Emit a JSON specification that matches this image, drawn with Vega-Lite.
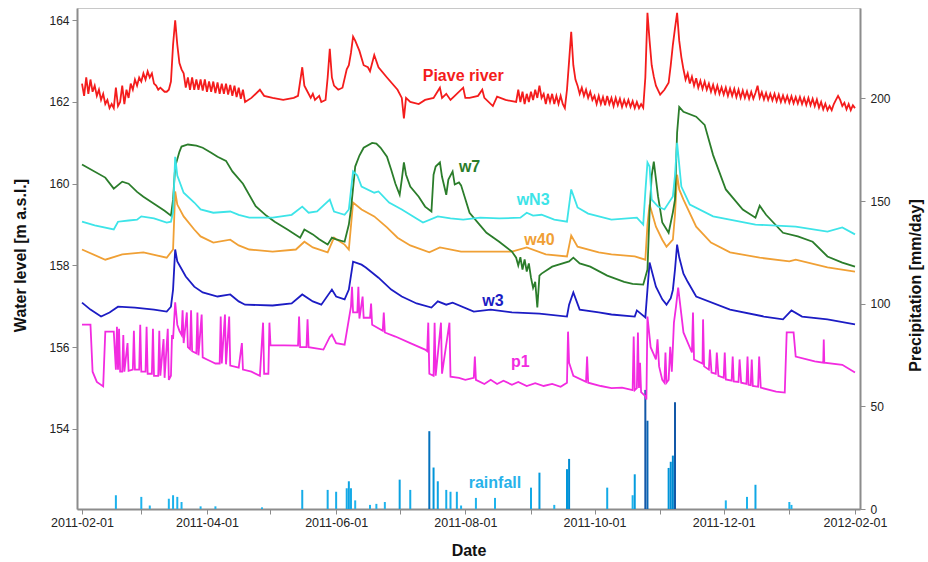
{
"$schema":"https://vega.github.io/schema/vega-lite/v6.json",
"width":783,"height":501,
"autosize":{"type":"none"},
"padding":{"left":77,"top":8,"right":68,"bottom":53},
"background":"white",
"config":{
 "font":"Liberation Sans",
 "view":{"stroke":"#c8c8c8","strokeWidth":1},
 "axis":{"grid":false,"domainColor":"#8c8c8c","domainWidth":2,"tickColor":"#8c8c8c","tickSize":5,"tickWidth":1,"labelColor":"#222222","labelFontSize":12,"titleFontSize":16,"titleFontWeight":"bold","titleColor":"#111111","labelFlush":false}
},
"datasets":{
"rain":[
{"date":"2011-02-17","precip":6.7},{"date":"2011-03-01","precip":5.9},{"date":"2011-03-05","precip":1.7},{"date":"2011-03-14","precip":5},{"date":"2011-03-16","precip":6.7},{"date":"2011-03-18","precip":5.9},{"date":"2011-03-20","precip":3.4},{"date":"2011-03-29","precip":1.3},{"date":"2011-04-05","precip":1.3},{"date":"2011-04-27","precip":0.8},
{"date":"2011-05-16","precip":9.3},{"date":"2011-05-28","precip":9.3},{"date":"2011-06-01","precip":8.4},{"date":"2011-06-06","precip":10.1},{"date":"2011-06-07","precip":13.5},{"date":"2011-06-08","precip":10.1},{"date":"2011-06-10","precip":4.2},{"date":"2011-06-17","precip":2},{"date":"2011-06-20","precip":2.5},{"date":"2011-06-24","precip":3.4},
{"date":"2011-07-01","precip":14.3},{"date":"2011-07-06","precip":9.3},{"date":"2011-07-15","precip":37.9},{"date":"2011-07-17","precip":20.2},{"date":"2011-07-19","precip":13.5},{"date":"2011-07-23","precip":9.3},{"date":"2011-07-25","precip":8.4},{"date":"2011-07-28","precip":8.4},{"date":"2011-07-30","precip":1.7},
{"date":"2011-08-06","precip":5.4},{"date":"2011-08-15","precip":5.4},{"date":"2011-09-01","precip":10.4},{"date":"2011-09-05","precip":17.7},{"date":"2011-09-12","precip":2},{"date":"2011-09-18","precip":19.4},{"date":"2011-09-19","precip":24.4},
{"date":"2011-10-07","precip":10.4},{"date":"2011-10-19","precip":6.7},{"date":"2011-10-20","precip":16.9},{"date":"2011-10-25","precip":58},{"date":"2011-10-26","precip":43},
{"date":"2011-11-05","precip":20},{"date":"2011-11-06","precip":23},{"date":"2011-11-07","precip":26},{"date":"2011-11-08","precip":52},
{"date":"2011-12-02","precip":4.2},{"date":"2011-12-12","precip":5.9},{"date":"2011-12-16","precip":11.8},{"date":"2012-01-01","precip":3.4},{"date":"2012-01-02","precip":2}
],
"labels":[
{"date":"2011-07-31","level":162.64,"label":"Piave river","series":"Piave river"},
{"date":"2011-08-03","level":160.41,"label":"w7","series":"w7"},
{"date":"2011-09-02","level":159.61,"label":"wN3","series":"wN3"},
{"date":"2011-09-05","level":158.63,"label":"w40","series":"w40"},
{"date":"2011-08-14","level":157.12,"label":"w3","series":"w3"},
{"date":"2011-08-27","level":155.64,"label":"p1","series":"p1"},
{"date":"2011-08-15","level":152.67,"label":"rainfall","series":"rainfall"}
],
"levels":[
{"date":"2011-02-01","series":"p1","level":156.55},{"date":"2011-02-05","series":"p1","level":156.55},{"date":"2011-02-06","series":"p1","level":155.4},{"date":"2011-02-08","series":"p1","level":155.15},{"date":"2011-02-11","series":"p1","level":155.04},{"date":"2011-02-12","series":"p1","level":156.38},{"date":"2011-02-16","series":"p1","level":156.38},{"date":"2011-02-17","series":"p1","level":155.45},{"date":"2011-02-17T12:00:00Z","series":"p1","level":156.5},{"date":"2011-02-18","series":"p1","level":155.45},{"date":"2011-02-18T12:00:00Z","series":"p1","level":156.45},{"date":"2011-02-19","series":"p1","level":155.4},{"date":"2011-02-20","series":"p1","level":155.4},{"date":"2011-02-20T12:00:00Z","series":"p1","level":156.3},{"date":"2011-02-21","series":"p1","level":155.4},{"date":"2011-02-22T12:00:00Z","series":"p1","level":156.1},{"date":"2011-02-23","series":"p1","level":155.42},{"date":"2011-02-25","series":"p1","level":155.45},{"date":"2011-02-25T12:00:00Z","series":"p1","level":156.4},{"date":"2011-02-26","series":"p1","level":155.45},{"date":"2011-02-28","series":"p1","level":155.45},{"date":"2011-02-28T12:00:00Z","series":"p1","level":156.55},{"date":"2011-03-01","series":"p1","level":155.4},{"date":"2011-03-03","series":"p1","level":155.4},{"date":"2011-03-03T12:00:00Z","series":"p1","level":156.5},{"date":"2011-03-04","series":"p1","level":155.35},{"date":"2011-03-06","series":"p1","level":155.35},{"date":"2011-03-06T12:00:00Z","series":"p1","level":156.45},{"date":"2011-03-07","series":"p1","level":155.3},{"date":"2011-03-09","series":"p1","level":155.3},{"date":"2011-03-09T12:00:00Z","series":"p1","level":156.4},{"date":"2011-03-10","series":"p1","level":155.3},{"date":"2011-03-11T12:00:00Z","series":"p1","level":156.2},{"date":"2011-03-12","series":"p1","level":155.25},{"date":"2011-03-13T12:00:00Z","series":"p1","level":156.45},{"date":"2011-03-14","series":"p1","level":155.2},{"date":"2011-03-15","series":"p1","level":155.3},{"date":"2011-03-15T12:00:00Z","series":"p1","level":156.3},{"date":"2011-03-16","series":"p1","level":156.2},{"date":"2011-03-17","series":"p1","level":157.1},{"date":"2011-03-18","series":"p1","level":156.55},{"date":"2011-03-19","series":"p1","level":156.4},{"date":"2011-03-20","series":"p1","level":156.3},{"date":"2011-03-20T12:00:00Z","series":"p1","level":156.9},{"date":"2011-03-21","series":"p1","level":156.1},{"date":"2011-03-22T12:00:00Z","series":"p1","level":156.85},{"date":"2011-03-23","series":"p1","level":156.0},{"date":"2011-03-24","series":"p1","level":155.95},{"date":"2011-03-24T12:00:00Z","series":"p1","level":156.9},{"date":"2011-03-25","series":"p1","level":155.9},{"date":"2011-03-27","series":"p1","level":155.85},{"date":"2011-03-27T12:00:00Z","series":"p1","level":156.85},{"date":"2011-03-28","series":"p1","level":155.8},{"date":"2011-03-29T12:00:00Z","series":"p1","level":156.8},{"date":"2011-03-30","series":"p1","level":155.75},{"date":"2011-04-01","series":"p1","level":155.7},{"date":"2011-04-03","series":"p1","level":155.65},{"date":"2011-04-05","series":"p1","level":155.6},{"date":"2011-04-07","series":"p1","level":155.6},{"date":"2011-04-07T12:00:00Z","series":"p1","level":156.75},{"date":"2011-04-08","series":"p1","level":155.6},{"date":"2011-04-09T12:00:00Z","series":"p1","level":156.8},{"date":"2011-04-10","series":"p1","level":155.58},{"date":"2011-04-11T12:00:00Z","series":"p1","level":156.75},{"date":"2011-04-12","series":"p1","level":155.55},{"date":"2011-04-16","series":"p1","level":155.5},{"date":"2011-04-17T12:00:00Z","series":"p1","level":156.1},{"date":"2011-04-18","series":"p1","level":155.45},{"date":"2011-04-22","series":"p1","level":155.4},{"date":"2011-04-26","series":"p1","level":155.3},{"date":"2011-04-27T12:00:00Z","series":"p1","level":156.6},{"date":"2011-04-28","series":"p1","level":155.35},{"date":"2011-04-30","series":"p1","level":155.35},{"date":"2011-04-30T12:00:00Z","series":"p1","level":156.6},{"date":"2011-05-01","series":"p1","level":156.05},{"date":"2011-05-14","series":"p1","level":156.04},{"date":"2011-05-14T12:00:00Z","series":"p1","level":156.75},{"date":"2011-05-15","series":"p1","level":156.0},{"date":"2011-05-18","series":"p1","level":156.0},{"date":"2011-05-18T12:00:00Z","series":"p1","level":156.68},{"date":"2011-05-19","series":"p1","level":156.0},{"date":"2011-05-26","series":"p1","level":155.94},{"date":"2011-05-29","series":"p1","level":156.25},{"date":"2011-05-30","series":"p1","level":156.31},{"date":"2011-06-01","series":"p1","level":156.1},{"date":"2011-06-05","series":"p1","level":156.06},{"date":"2011-06-08","series":"p1","level":156.99},{"date":"2011-06-08T12:00:00Z","series":"p1","level":157.48},{"date":"2011-06-09","series":"p1","level":156.85},{"date":"2011-06-11","series":"p1","level":156.85},{"date":"2011-06-11T12:00:00Z","series":"p1","level":157.48},{"date":"2011-06-12","series":"p1","level":156.7},{"date":"2011-06-13T12:00:00Z","series":"p1","level":157.24},{"date":"2011-06-14","series":"p1","level":156.72},{"date":"2011-06-17","series":"p1","level":156.72},{"date":"2011-06-17T12:00:00Z","series":"p1","level":157.07},{"date":"2011-06-18","series":"p1","level":156.55},{"date":"2011-06-23","series":"p1","level":156.4},{"date":"2011-06-23T12:00:00Z","series":"p1","level":156.85},{"date":"2011-06-24","series":"p1","level":156.36},{"date":"2011-06-29","series":"p1","level":156.26},{"date":"2011-07-06","series":"p1","level":156.1},{"date":"2011-07-13","series":"p1","level":155.94},{"date":"2011-07-14","series":"p1","level":155.9},{"date":"2011-07-14T12:00:00Z","series":"p1","level":156.6},{"date":"2011-07-15","series":"p1","level":155.35},{"date":"2011-07-17","series":"p1","level":155.3},{"date":"2011-07-17T12:00:00Z","series":"p1","level":156.6},{"date":"2011-07-18","series":"p1","level":155.3},{"date":"2011-07-20T12:00:00Z","series":"p1","level":156.6},{"date":"2011-07-21","series":"p1","level":155.35},{"date":"2011-07-24T12:00:00Z","series":"p1","level":156.6},{"date":"2011-07-25","series":"p1","level":155.28},{"date":"2011-07-29","series":"p1","level":155.25},{"date":"2011-08-01","series":"p1","level":155.2},{"date":"2011-08-05","series":"p1","level":155.25},{"date":"2011-08-05T12:00:00Z","series":"p1","level":155.77},{"date":"2011-08-06","series":"p1","level":155.2},{"date":"2011-08-10","series":"p1","level":155.1},{"date":"2011-08-13","series":"p1","level":155.2},{"date":"2011-08-16","series":"p1","level":155.1},{"date":"2011-08-19","series":"p1","level":155.18},{"date":"2011-08-23","series":"p1","level":155.08},{"date":"2011-08-26","series":"p1","level":155.15},{"date":"2011-08-30","series":"p1","level":155.05},{"date":"2011-09-03","series":"p1","level":155.12},{"date":"2011-09-07","series":"p1","level":155.05},{"date":"2011-09-11","series":"p1","level":155.1},{"date":"2011-09-15","series":"p1","level":155.03},{"date":"2011-09-18","series":"p1","level":155.13},{"date":"2011-09-18T12:00:00Z","series":"p1","level":156.38},{"date":"2011-09-19","series":"p1","level":155.62},{"date":"2011-09-21","series":"p1","level":155.3},{"date":"2011-09-27","series":"p1","level":155.15},{"date":"2011-09-27T12:00:00Z","series":"p1","level":155.77},{"date":"2011-09-28","series":"p1","level":155.13},{"date":"2011-10-04","series":"p1","level":155.05},{"date":"2011-10-09","series":"p1","level":155.0},{"date":"2011-10-14","series":"p1","level":155.01},{"date":"2011-10-19","series":"p1","level":154.95},{"date":"2011-10-19T12:00:00Z","series":"p1","level":156.26},{"date":"2011-10-20","series":"p1","level":154.95},{"date":"2011-10-21","series":"p1","level":155.0},{"date":"2011-10-21T12:00:00Z","series":"p1","level":156.36},{"date":"2011-10-22","series":"p1","level":155.0},{"date":"2011-10-22T12:00:00Z","series":"p1","level":155.62},{"date":"2011-10-23","series":"p1","level":154.9},{"date":"2011-10-25","series":"p1","level":154.8},{"date":"2011-10-25T12:00:00Z","series":"p1","level":154.72},{"date":"2011-10-26","series":"p1","level":156.75},{"date":"2011-10-27T12:00:00Z","series":"p1","level":156.0},{"date":"2011-10-30","series":"p1","level":155.7},{"date":"2011-10-30T18:00:00Z","series":"p1","level":156.19},{"date":"2011-10-31T12:00:00Z","series":"p1","level":155.53},{"date":"2011-11-02","series":"p1","level":155.2},{"date":"2011-11-03","series":"p1","level":155.13},{"date":"2011-11-03T12:00:00Z","series":"p1","level":155.87},{"date":"2011-11-04","series":"p1","level":155.13},{"date":"2011-11-05","series":"p1","level":155.2},{"date":"2011-11-05T18:00:00Z","series":"p1","level":156.01},{"date":"2011-11-06T12:00:00Z","series":"p1","level":155.4},{"date":"2011-11-07T12:00:00Z","series":"p1","level":156.6},{"date":"2011-11-08T12:00:00Z","series":"p1","level":157.0},{"date":"2011-11-09T12:00:00Z","series":"p1","level":157.46},{"date":"2011-11-12","series":"p1","level":156.36},{"date":"2011-11-16","series":"p1","level":155.87},{"date":"2011-11-16T12:00:00Z","series":"p1","level":156.85},{"date":"2011-11-17","series":"p1","level":155.7},{"date":"2011-11-21","series":"p1","level":155.6},{"date":"2011-11-21T06:00:00Z","series":"p1","level":156.68},{"date":"2011-11-21T18:00:00Z","series":"p1","level":155.53},{"date":"2011-11-24","series":"p1","level":155.45},{"date":"2011-11-24T12:00:00Z","series":"p1","level":155.94},{"date":"2011-11-25T06:00:00Z","series":"p1","level":155.38},{"date":"2011-11-27T06:00:00Z","series":"p1","level":155.35},{"date":"2011-11-27T18:00:00Z","series":"p1","level":155.87},{"date":"2011-11-28T12:00:00Z","series":"p1","level":155.3},{"date":"2011-12-01","series":"p1","level":155.25},{"date":"2011-12-01T12:00:00Z","series":"p1","level":155.87},{"date":"2011-12-02","series":"p1","level":155.21},{"date":"2011-12-04T18:00:00Z","series":"p1","level":155.18},{"date":"2011-12-05T06:00:00Z","series":"p1","level":155.77},{"date":"2011-12-05T18:00:00Z","series":"p1","level":155.16},{"date":"2011-12-08","series":"p1","level":155.15},{"date":"2011-12-08T12:00:00Z","series":"p1","level":155.7},{"date":"2011-12-09T06:00:00Z","series":"p1","level":155.13},{"date":"2011-12-11T18:00:00Z","series":"p1","level":155.1},{"date":"2011-12-12T06:00:00Z","series":"p1","level":155.77},{"date":"2011-12-12T18:00:00Z","series":"p1","level":155.08},{"date":"2011-12-13T18:00:00Z","series":"p1","level":155.07},{"date":"2011-12-14T06:00:00Z","series":"p1","level":155.7},{"date":"2011-12-14T18:00:00Z","series":"p1","level":155.05},{"date":"2011-12-17T06:00:00Z","series":"p1","level":155.03},{"date":"2011-12-17T18:00:00Z","series":"p1","level":155.77},{"date":"2011-12-18T12:00:00Z","series":"p1","level":155.01},{"date":"2011-12-25T18:00:00Z","series":"p1","level":154.91},{"date":"2011-12-29T20:00:00Z","series":"p1","level":154.89},{"date":"2011-12-30T18:00:00Z","series":"p1","level":156.36},{"date":"2012-01-03","series":"p1","level":156.36},{"date":"2012-01-04","series":"p1","level":155.77},{"date":"2012-01-13","series":"p1","level":155.65},{"date":"2012-01-17","series":"p1","level":155.62},{"date":"2012-01-17T06:00:00Z","series":"p1","level":156.19},{"date":"2012-01-17T12:00:00Z","series":"p1","level":155.62},{"date":"2012-01-26","series":"p1","level":155.57},{"date":"2012-02-01","series":"p1","level":155.38},
{"date":"2011-02-01","series":"w3","level":157.09},{"date":"2011-02-05","series":"w3","level":156.92},{"date":"2011-02-10","series":"w3","level":156.75},{"date":"2011-02-14","series":"w3","level":156.85},{"date":"2011-02-18","series":"w3","level":156.99},{"date":"2011-02-26","series":"w3","level":156.97},{"date":"2011-03-07","series":"w3","level":156.92},{"date":"2011-03-13","series":"w3","level":156.87},{"date":"2011-03-15","series":"w3","level":156.99},{"date":"2011-03-16","series":"w3","level":157.41},{"date":"2011-03-17","series":"w3","level":158.39},{"date":"2011-03-18","series":"w3","level":158.1},{"date":"2011-03-22","series":"w3","level":157.73},{"date":"2011-03-26","series":"w3","level":157.48},{"date":"2011-03-30","series":"w3","level":157.34},{"date":"2011-04-06","series":"w3","level":157.24},{"date":"2011-04-12","series":"w3","level":157.29},{"date":"2011-04-16","series":"w3","level":157.12},{"date":"2011-04-19","series":"w3","level":157.04},{"date":"2011-05-02","series":"w3","level":157.02},{"date":"2011-05-11","series":"w3","level":157.07},{"date":"2011-05-16","series":"w3","level":157.29},{"date":"2011-05-21","series":"w3","level":157.12},{"date":"2011-05-25","series":"w3","level":157.04},{"date":"2011-05-30","series":"w3","level":157.41},{"date":"2011-06-01","series":"w3","level":157.24},{"date":"2011-06-05","series":"w3","level":157.17},{"date":"2011-06-07","series":"w3","level":157.41},{"date":"2011-06-09","series":"w3","level":158.09},{"date":"2011-06-13","series":"w3","level":158.02},{"date":"2011-06-15","series":"w3","level":157.95},{"date":"2011-06-21","series":"w3","level":157.7},{"date":"2011-06-27","series":"w3","level":157.41},{"date":"2011-07-02","series":"w3","level":157.24},{"date":"2011-07-09","series":"w3","level":157.07},{"date":"2011-07-16","series":"w3","level":156.97},{"date":"2011-07-19","series":"w3","level":157.12},{"date":"2011-07-23","series":"w3","level":157.04},{"date":"2011-07-26","series":"w3","level":157.09},{"date":"2011-08-05","series":"w3","level":156.87},{"date":"2011-08-13","series":"w3","level":156.92},{"date":"2011-08-23","series":"w3","level":156.85},{"date":"2011-09-05","series":"w3","level":156.82},{"date":"2011-09-18","series":"w3","level":156.75},{"date":"2011-09-19","series":"w3","level":157.04},{"date":"2011-09-21","series":"w3","level":157.34},{"date":"2011-09-24","series":"w3","level":156.92},{"date":"2011-10-03","series":"w3","level":156.85},{"date":"2011-10-09","series":"w3","level":156.8},{"date":"2011-10-20","series":"w3","level":156.75},{"date":"2011-10-21","series":"w3","level":156.9},{"date":"2011-10-25","series":"w3","level":156.73},{"date":"2011-10-26","series":"w3","level":157.41},{"date":"2011-10-27","series":"w3","level":158.07},{"date":"2011-10-30","series":"w3","level":157.48},{"date":"2011-11-02","series":"w3","level":157.17},{"date":"2011-11-04","series":"w3","level":157.04},{"date":"2011-11-06","series":"w3","level":157.2},{"date":"2011-11-07","series":"w3","level":157.4},{"date":"2011-11-08","series":"w3","level":157.9},{"date":"2011-11-09","series":"w3","level":158.51},{"date":"2011-11-10","series":"w3","level":158.2},{"date":"2011-11-12","series":"w3","level":157.8},{"date":"2011-11-14","series":"w3","level":157.6},{"date":"2011-11-18","series":"w3","level":157.24},{"date":"2011-12-04","series":"w3","level":156.92},{"date":"2011-12-20","series":"w3","level":156.75},{"date":"2011-12-29","series":"w3","level":156.68},{"date":"2012-01-02","series":"w3","level":156.9},{"date":"2012-01-07","series":"w3","level":156.75},{"date":"2012-01-19","series":"w3","level":156.68},{"date":"2012-02-01","series":"w3","level":156.56},
{"date":"2011-02-01","series":"w40","level":158.39},{"date":"2011-02-12","series":"w40","level":158.14},{"date":"2011-02-20","series":"w40","level":158.27},{"date":"2011-03-02","series":"w40","level":158.32},{"date":"2011-03-13","series":"w40","level":158.19},{"date":"2011-03-16","series":"w40","level":158.39},{"date":"2011-03-17","series":"w40","level":159.81},{"date":"2011-03-18","series":"w40","level":159.49},{"date":"2011-03-21","series":"w40","level":159.2},{"date":"2011-03-26","series":"w40","level":158.88},{"date":"2011-03-29","series":"w40","level":158.71},{"date":"2011-04-04","series":"w40","level":158.56},{"date":"2011-04-12","series":"w40","level":158.63},{"date":"2011-04-16","series":"w40","level":158.49},{"date":"2011-04-21","series":"w40","level":158.39},{"date":"2011-05-02","series":"w40","level":158.34},{"date":"2011-05-13","series":"w40","level":158.39},{"date":"2011-05-17","series":"w40","level":158.58},{"date":"2011-05-21","series":"w40","level":158.44},{"date":"2011-05-28","series":"w40","level":158.32},{"date":"2011-05-31","series":"w40","level":158.68},{"date":"2011-06-05","series":"w40","level":158.51},{"date":"2011-06-07","series":"w40","level":158.39},{"date":"2011-06-09","series":"w40","level":159.54},{"date":"2011-06-13","series":"w40","level":159.37},{"date":"2011-06-19","series":"w40","level":159.2},{"date":"2011-06-25","series":"w40","level":158.93},{"date":"2011-06-30","series":"w40","level":158.68},{"date":"2011-07-06","series":"w40","level":158.49},{"date":"2011-07-15","series":"w40","level":158.32},{"date":"2011-07-20","series":"w40","level":158.44},{"date":"2011-07-30","series":"w40","level":158.34},{"date":"2011-08-13","series":"w40","level":158.34},{"date":"2011-08-23","series":"w40","level":158.34},{"date":"2011-08-30","series":"w40","level":158.44},{"date":"2011-09-08","series":"w40","level":158.27},{"date":"2011-09-18","series":"w40","level":158.22},{"date":"2011-09-20","series":"w40","level":158.73},{"date":"2011-09-23","series":"w40","level":158.46},{"date":"2011-10-03","series":"w40","level":158.32},{"date":"2011-10-09","series":"w40","level":158.27},{"date":"2011-10-20","series":"w40","level":158.22},{"date":"2011-10-25","series":"w40","level":158.14},{"date":"2011-10-26","series":"w40","level":159.0},{"date":"2011-10-27","series":"w40","level":159.49},{"date":"2011-10-30","series":"w40","level":158.95},{"date":"2011-11-02","series":"w40","level":158.63},{"date":"2011-11-04","series":"w40","level":158.46},{"date":"2011-11-07","series":"w40","level":158.63},{"date":"2011-11-08","series":"w40","level":159.24},{"date":"2011-11-09","series":"w40","level":160.22},{"date":"2011-11-10","series":"w40","level":159.86},{"date":"2011-11-12","series":"w40","level":159.61},{"date":"2011-11-18","series":"w40","level":158.95},{"date":"2011-11-25","series":"w40","level":158.56},{"date":"2011-12-04","series":"w40","level":158.32},{"date":"2011-12-18","series":"w40","level":158.19},{"date":"2012-01-01","series":"w40","level":158.1},{"date":"2012-01-04","series":"w40","level":158.14},{"date":"2012-01-19","series":"w40","level":157.95},{"date":"2012-02-01","series":"w40","level":157.85},
{"date":"2011-02-01","series":"w7","level":160.47},{"date":"2011-02-12","series":"w7","level":160.15},{"date":"2011-02-16","series":"w7","level":159.88},{"date":"2011-02-20","series":"w7","level":160.05},{"date":"2011-02-23","series":"w7","level":160.0},{"date":"2011-02-27","series":"w7","level":159.8},{"date":"2011-03-02","series":"w7","level":159.68},{"date":"2011-03-07","series":"w7","level":159.51},{"date":"2011-03-12","series":"w7","level":159.34},{"date":"2011-03-15","series":"w7","level":159.22},{"date":"2011-03-16","series":"w7","level":159.61},{"date":"2011-03-17","series":"w7","level":160.42},{"date":"2011-03-19","series":"w7","level":160.78},{"date":"2011-03-20","series":"w7","level":160.91},{"date":"2011-03-23","series":"w7","level":160.96},{"date":"2011-03-27","series":"w7","level":160.93},{"date":"2011-03-30","series":"w7","level":160.88},{"date":"2011-04-03","series":"w7","level":160.76},{"date":"2011-04-06","series":"w7","level":160.66},{"date":"2011-04-10","series":"w7","level":160.56},{"date":"2011-04-13","series":"w7","level":160.3},{"date":"2011-04-18","series":"w7","level":160.0},{"date":"2011-04-24","series":"w7","level":159.45},{"date":"2011-04-29","series":"w7","level":159.22},{"date":"2011-05-03","series":"w7","level":159.07},{"date":"2011-05-09","series":"w7","level":158.88},{"date":"2011-05-15","series":"w7","level":158.68},{"date":"2011-05-17","series":"w7","level":158.88},{"date":"2011-05-21","series":"w7","level":158.76},{"date":"2011-05-24","series":"w7","level":158.64},{"date":"2011-05-28","series":"w7","level":158.51},{"date":"2011-05-30","series":"w7","level":158.68},{"date":"2011-06-01","series":"w7","level":158.64},{"date":"2011-06-05","series":"w7","level":158.58},{"date":"2011-06-07","series":"w7","level":159.0},{"date":"2011-06-08","series":"w7","level":159.37},{"date":"2011-06-10","series":"w7","level":160.42},{"date":"2011-06-12","series":"w7","level":160.69},{"date":"2011-06-14","series":"w7","level":160.88},{"date":"2011-06-18","series":"w7","level":161.0},{"date":"2011-06-20","series":"w7","level":160.98},{"date":"2011-06-22","series":"w7","level":160.88},{"date":"2011-06-25","series":"w7","level":160.66},{"date":"2011-06-27","series":"w7","level":160.34},{"date":"2011-06-29","series":"w7","level":160.0},{"date":"2011-07-01","series":"w7","level":159.73},{"date":"2011-07-02","series":"w7","level":160.1},{"date":"2011-07-03","series":"w7","level":160.52},{"date":"2011-07-04","series":"w7","level":160.22},{"date":"2011-07-06","series":"w7","level":159.93},{"date":"2011-07-10","series":"w7","level":159.68},{"date":"2011-07-13","series":"w7","level":159.44},{"date":"2011-07-16","series":"w7","level":159.32},{"date":"2011-07-17","series":"w7","level":160.22},{"date":"2011-07-18","series":"w7","level":160.42},{"date":"2011-07-20","series":"w7","level":160.52},{"date":"2011-07-21","series":"w7","level":160.17},{"date":"2011-07-23","series":"w7","level":159.73},{"date":"2011-07-24","series":"w7","level":160.1},{"date":"2011-07-26","series":"w7","level":160.3},{"date":"2011-07-27","series":"w7","level":159.98},{"date":"2011-07-29","series":"w7","level":160.03},{"date":"2011-07-30","series":"w7","level":159.96},{"date":"2011-08-03","series":"w7","level":159.29},{"date":"2011-08-08","series":"w7","level":158.98},{"date":"2011-08-11","series":"w7","level":158.8},{"date":"2011-08-17","series":"w7","level":158.58},{"date":"2011-08-23","series":"w7","level":158.34},{"date":"2011-08-25","series":"w7","level":158.19},{"date":"2011-08-26","series":"w7","level":158.0},{"date":"2011-08-27","series":"w7","level":158.2},{"date":"2011-08-28","series":"w7","level":157.9},{"date":"2011-08-29","series":"w7","level":158.15},{"date":"2011-08-30","series":"w7","level":157.85},{"date":"2011-08-31","series":"w7","level":158.05},{"date":"2011-09-01","series":"w7","level":157.7},{"date":"2011-09-02","series":"w7","level":157.45},{"date":"2011-09-03","series":"w7","level":157.6},{"date":"2011-09-04","series":"w7","level":156.97},{"date":"2011-09-05","series":"w7","level":157.75},{"date":"2011-09-06","series":"w7","level":157.8},{"date":"2011-09-11","series":"w7","level":157.97},{"date":"2011-09-19","series":"w7","level":158.1},{"date":"2011-09-21","series":"w7","level":158.19},{"date":"2011-09-24","series":"w7","level":158.05},{"date":"2011-09-29","series":"w7","level":157.97},{"date":"2011-10-07","series":"w7","level":157.75},{"date":"2011-10-15","series":"w7","level":157.6},{"date":"2011-10-19","series":"w7","level":157.55},{"date":"2011-10-24","series":"w7","level":157.53},{"date":"2011-10-26","series":"w7","level":157.9},{"date":"2011-10-27","series":"w7","level":159.3},{"date":"2011-10-28","series":"w7","level":160.2},{"date":"2011-10-29","series":"w7","level":160.54},{"date":"2011-10-31","series":"w7","level":159.69},{"date":"2011-11-02","series":"w7","level":159.05},{"date":"2011-11-05","series":"w7","level":158.8},{"date":"2011-11-07","series":"w7","level":159.3},{"date":"2011-11-08","series":"w7","level":159.61},{"date":"2011-11-09","series":"w7","level":161.25},{"date":"2011-11-10","series":"w7","level":161.88},{"date":"2011-11-12","series":"w7","level":161.76},{"date":"2011-11-18","series":"w7","level":161.64},{"date":"2011-11-22","series":"w7","level":161.44},{"date":"2011-11-26","series":"w7","level":160.7},{"date":"2011-12-02","series":"w7","level":159.86},{"date":"2011-12-10","series":"w7","level":159.37},{"date":"2011-12-16","series":"w7","level":159.17},{"date":"2011-12-18","series":"w7","level":159.46},{"date":"2011-12-21","series":"w7","level":159.24},{"date":"2011-12-29","series":"w7","level":158.8},{"date":"2012-01-05","series":"w7","level":158.71},{"date":"2012-01-12","series":"w7","level":158.58},{"date":"2012-01-19","series":"w7","level":158.22},{"date":"2012-01-26","series":"w7","level":158.07},{"date":"2012-02-01","series":"w7","level":157.97},
{"date":"2011-02-01","series":"wN3","level":159.07},{"date":"2011-02-07","series":"wN3","level":158.98},{"date":"2011-02-16","series":"wN3","level":158.88},{"date":"2011-02-18","series":"wN3","level":159.07},{"date":"2011-02-23","series":"wN3","level":159.1},{"date":"2011-02-27","series":"wN3","level":159.12},{"date":"2011-03-01","series":"wN3","level":159.2},{"date":"2011-03-07","series":"wN3","level":159.15},{"date":"2011-03-13","series":"wN3","level":159.05},{"date":"2011-03-15","series":"wN3","level":159.07},{"date":"2011-03-16","series":"wN3","level":159.3},{"date":"2011-03-17","series":"wN3","level":160.66},{"date":"2011-03-18","series":"wN3","level":160.2},{"date":"2011-03-21","series":"wN3","level":159.78},{"date":"2011-03-26","series":"wN3","level":159.54},{"date":"2011-03-29","series":"wN3","level":159.37},{"date":"2011-04-04","series":"wN3","level":159.29},{"date":"2011-04-12","series":"wN3","level":159.32},{"date":"2011-04-16","series":"wN3","level":159.24},{"date":"2011-04-21","series":"wN3","level":159.17},{"date":"2011-05-02","series":"wN3","level":159.17},{"date":"2011-05-11","series":"wN3","level":159.24},{"date":"2011-05-16","series":"wN3","level":159.44},{"date":"2011-05-19","series":"wN3","level":159.29},{"date":"2011-05-23","series":"wN3","level":159.32},{"date":"2011-05-29","series":"wN3","level":159.61},{"date":"2011-05-31","series":"wN3","level":159.32},{"date":"2011-06-05","series":"wN3","level":159.24},{"date":"2011-06-07","series":"wN3","level":159.37},{"date":"2011-06-09","series":"wN3","level":160.3},{"date":"2011-06-11","series":"wN3","level":160.2},{"date":"2011-06-13","series":"wN3","level":159.93},{"date":"2011-06-19","series":"wN3","level":159.78},{"date":"2011-06-21","series":"wN3","level":159.81},{"date":"2011-06-26","series":"wN3","level":159.54},{"date":"2011-07-02","series":"wN3","level":159.37},{"date":"2011-07-12","series":"wN3","level":159.05},{"date":"2011-07-19","series":"wN3","level":159.2},{"date":"2011-07-25","series":"wN3","level":159.15},{"date":"2011-07-31","series":"wN3","level":159.12},{"date":"2011-08-08","series":"wN3","level":159.17},{"date":"2011-08-17","series":"wN3","level":159.15},{"date":"2011-08-27","series":"wN3","level":159.17},{"date":"2011-08-30","series":"wN3","level":159.29},{"date":"2011-09-02","series":"wN3","level":159.22},{"date":"2011-09-06","series":"wN3","level":159.24},{"date":"2011-09-12","series":"wN3","level":159.12},{"date":"2011-09-18","series":"wN3","level":159.07},{"date":"2011-09-20","series":"wN3","level":159.86},{"date":"2011-09-23","series":"wN3","level":159.42},{"date":"2011-09-28","series":"wN3","level":159.27},{"date":"2011-10-09","series":"wN3","level":159.12},{"date":"2011-10-21","series":"wN3","level":159.17},{"date":"2011-10-24","series":"wN3","level":159.0},{"date":"2011-10-25","series":"wN3","level":159.8},{"date":"2011-10-26","series":"wN3","level":160.52},{"date":"2011-10-27","series":"wN3","level":160.42},{"date":"2011-10-28","series":"wN3","level":159.61},{"date":"2011-10-31","series":"wN3","level":159.44},{"date":"2011-11-03","series":"wN3","level":159.37},{"date":"2011-11-07","series":"wN3","level":159.69},{"date":"2011-11-08","series":"wN3","level":160.2},{"date":"2011-11-09","series":"wN3","level":161.0},{"date":"2011-11-11","series":"wN3","level":159.93},{"date":"2011-11-15","series":"wN3","level":159.49},{"date":"2011-11-26","series":"wN3","level":159.2},{"date":"2011-12-16","series":"wN3","level":159.0},{"date":"2012-01-04","series":"wN3","level":158.95},{"date":"2012-01-19","series":"wN3","level":158.83},{"date":"2012-01-26","series":"wN3","level":158.93},{"date":"2012-02-01","series":"wN3","level":158.76},
{"date":"2011-02-01","series":"Piave river","level":162.45},{"date":"2011-02-02","series":"Piave river","level":162.15},{"date":"2011-02-03","series":"Piave river","level":162.6},{"date":"2011-02-04","series":"Piave river","level":162.2},{"date":"2011-02-05","series":"Piave river","level":162.55},{"date":"2011-02-06","series":"Piave river","level":162.25},{"date":"2011-02-07","series":"Piave river","level":162.4},{"date":"2011-02-08","series":"Piave river","level":162.15},{"date":"2011-02-09","series":"Piave river","level":162.3},{"date":"2011-02-10","series":"Piave river","level":162.05},{"date":"2011-02-11","series":"Piave river","level":162.2},{"date":"2011-02-12","series":"Piave river","level":161.95},{"date":"2011-02-13","series":"Piave river","level":162.05},{"date":"2011-02-14","series":"Piave river","level":161.85},{"date":"2011-02-15","series":"Piave river","level":161.95},{"date":"2011-02-16","series":"Piave river","level":161.85},{"date":"2011-02-17","series":"Piave river","level":162.35},{"date":"2011-02-18","series":"Piave river","level":161.9},{"date":"2011-02-19","series":"Piave river","level":162.0},{"date":"2011-02-20","series":"Piave river","level":162.4},{"date":"2011-02-21","series":"Piave river","level":161.95},{"date":"2011-02-22","series":"Piave river","level":162.3},{"date":"2011-02-23","series":"Piave river","level":162.1},{"date":"2011-02-24","series":"Piave river","level":162.45},{"date":"2011-02-25","series":"Piave river","level":162.3},{"date":"2011-02-26","series":"Piave river","level":162.55},{"date":"2011-02-27","series":"Piave river","level":162.4},{"date":"2011-02-28","series":"Piave river","level":162.6},{"date":"2011-03-01","series":"Piave river","level":162.5},{"date":"2011-03-02","series":"Piave river","level":162.7},{"date":"2011-03-03","series":"Piave river","level":162.55},{"date":"2011-03-04","series":"Piave river","level":162.75},{"date":"2011-03-05","series":"Piave river","level":162.6},{"date":"2011-03-06","series":"Piave river","level":162.7},{"date":"2011-03-07","series":"Piave river","level":162.45},{"date":"2011-03-08","series":"Piave river","level":162.4},{"date":"2011-03-09","series":"Piave river","level":162.3},{"date":"2011-03-10","series":"Piave river","level":162.35},{"date":"2011-03-11","series":"Piave river","level":162.3},{"date":"2011-03-12","series":"Piave river","level":162.25},{"date":"2011-03-13","series":"Piave river","level":162.25},{"date":"2011-03-14","series":"Piave river","level":162.3},{"date":"2011-03-15","series":"Piave river","level":162.5},{"date":"2011-03-16","series":"Piave river","level":163.4},{"date":"2011-03-17","series":"Piave river","level":164.0},{"date":"2011-03-18","series":"Piave river","level":163.4},{"date":"2011-03-19","series":"Piave river","level":162.95},{"date":"2011-03-20","series":"Piave river","level":162.8},{"date":"2011-03-21","series":"Piave river","level":162.7},{"date":"2011-03-22","series":"Piave river","level":162.35},{"date":"2011-03-23","series":"Piave river","level":162.6},{"date":"2011-03-24","series":"Piave river","level":162.3},{"date":"2011-03-25","series":"Piave river","level":162.6},{"date":"2011-03-26","series":"Piave river","level":162.3},{"date":"2011-03-27","series":"Piave river","level":162.55},{"date":"2011-03-28","series":"Piave river","level":162.3},{"date":"2011-03-29","series":"Piave river","level":162.55},{"date":"2011-03-30","series":"Piave river","level":162.28},{"date":"2011-03-31","series":"Piave river","level":162.55},{"date":"2011-04-01","series":"Piave river","level":162.25},{"date":"2011-04-02","series":"Piave river","level":162.5},{"date":"2011-04-03","series":"Piave river","level":162.25},{"date":"2011-04-04","series":"Piave river","level":162.5},{"date":"2011-04-05","series":"Piave river","level":162.22},{"date":"2011-04-06","series":"Piave river","level":162.48},{"date":"2011-04-07","series":"Piave river","level":162.2},{"date":"2011-04-08","series":"Piave river","level":162.45},{"date":"2011-04-09","series":"Piave river","level":162.2},{"date":"2011-04-10","series":"Piave river","level":162.45},{"date":"2011-04-11","series":"Piave river","level":162.18},{"date":"2011-04-12","series":"Piave river","level":162.42},{"date":"2011-04-13","series":"Piave river","level":162.15},{"date":"2011-04-14","series":"Piave river","level":162.4},{"date":"2011-04-15","series":"Piave river","level":162.12},{"date":"2011-04-16","series":"Piave river","level":162.35},{"date":"2011-04-17","series":"Piave river","level":162.08},{"date":"2011-04-18","series":"Piave river","level":162.3},{"date":"2011-04-19","series":"Piave river","level":162.0},{"date":"2011-04-22","series":"Piave river","level":162.1},{"date":"2011-04-26","series":"Piave river","level":162.3},{"date":"2011-04-28","series":"Piave river","level":162.15},{"date":"2011-05-02","series":"Piave river","level":162.1},{"date":"2011-05-07","series":"Piave river","level":162.05},{"date":"2011-05-12","series":"Piave river","level":162.1},{"date":"2011-05-14","series":"Piave river","level":162.15},{"date":"2011-05-16","series":"Piave river","level":162.85},{"date":"2011-05-17","series":"Piave river","level":162.4},{"date":"2011-05-18","series":"Piave river","level":162.3},{"date":"2011-05-20","series":"Piave river","level":162.1},{"date":"2011-05-21","series":"Piave river","level":162.2},{"date":"2011-05-22","series":"Piave river","level":162.05},{"date":"2011-05-24","series":"Piave river","level":162.15},{"date":"2011-05-25","series":"Piave river","level":162.0},{"date":"2011-05-27","series":"Piave river","level":162.05},{"date":"2011-05-28","series":"Piave river","level":162.6},{"date":"2011-05-29","series":"Piave river","level":163.3},{"date":"2011-05-30","series":"Piave river","level":162.6},{"date":"2011-05-31","series":"Piave river","level":162.4},{"date":"2011-06-02","series":"Piave river","level":162.3},{"date":"2011-06-04","series":"Piave river","level":162.35},{"date":"2011-06-06","series":"Piave river","level":162.8},{"date":"2011-06-07","series":"Piave river","level":162.9},{"date":"2011-06-08","series":"Piave river","level":163.2},{"date":"2011-06-09","series":"Piave river","level":163.6},{"date":"2011-06-10","series":"Piave river","level":163.5},{"date":"2011-06-12","series":"Piave river","level":163.25},{"date":"2011-06-14","series":"Piave river","level":162.9},{"date":"2011-06-16","series":"Piave river","level":162.85},{"date":"2011-06-17","series":"Piave river","level":162.75},{"date":"2011-06-19","series":"Piave river","level":163.15},{"date":"2011-06-21","series":"Piave river","level":162.85},{"date":"2011-06-25","series":"Piave river","level":162.6},{"date":"2011-06-30","series":"Piave river","level":162.3},{"date":"2011-07-02","series":"Piave river","level":162.1},{"date":"2011-07-03","series":"Piave river","level":161.6},{"date":"2011-07-04","series":"Piave river","level":162.1},{"date":"2011-07-06","series":"Piave river","level":162.0},{"date":"2011-07-10","series":"Piave river","level":161.95},{"date":"2011-07-13","series":"Piave river","level":162.05},{"date":"2011-07-17","series":"Piave river","level":162.1},{"date":"2011-07-20","series":"Piave river","level":162.35},{"date":"2011-07-21","series":"Piave river","level":162.1},{"date":"2011-07-23","series":"Piave river","level":162.2},{"date":"2011-07-25","series":"Piave river","level":162.05},{"date":"2011-07-27","series":"Piave river","level":162.15},{"date":"2011-07-31","series":"Piave river","level":162.35},{"date":"2011-08-01","series":"Piave river","level":162.1},{"date":"2011-08-03","series":"Piave river","level":162.1},{"date":"2011-08-07","series":"Piave river","level":162.15},{"date":"2011-08-09","series":"Piave river","level":162.3},{"date":"2011-08-10","series":"Piave river","level":162.1},{"date":"2011-08-14","series":"Piave river","level":161.9},{"date":"2011-08-16","series":"Piave river","level":162.13},{"date":"2011-08-20","series":"Piave river","level":162.05},{"date":"2011-08-25","series":"Piave river","level":162.0},{"date":"2011-08-26","series":"Piave river","level":162.3},{"date":"2011-08-27","series":"Piave river","level":162.0},{"date":"2011-08-28","series":"Piave river","level":162.25},{"date":"2011-08-29","series":"Piave river","level":161.95},{"date":"2011-08-30","series":"Piave river","level":162.2},{"date":"2011-08-31","series":"Piave river","level":162.0},{"date":"2011-09-01","series":"Piave river","level":162.25},{"date":"2011-09-02","series":"Piave river","level":162.05},{"date":"2011-09-03","series":"Piave river","level":162.3},{"date":"2011-09-04","series":"Piave river","level":162.1},{"date":"2011-09-05","series":"Piave river","level":162.4},{"date":"2011-09-06","series":"Piave river","level":162.1},{"date":"2011-09-07","series":"Piave river","level":162.2},{"date":"2011-09-08","series":"Piave river","level":161.95},{"date":"2011-09-09","series":"Piave river","level":162.2},{"date":"2011-09-10","series":"Piave river","level":162.0},{"date":"2011-09-11","series":"Piave river","level":162.2},{"date":"2011-09-12","series":"Piave river","level":161.95},{"date":"2011-09-13","series":"Piave river","level":162.15},{"date":"2011-09-14","series":"Piave river","level":161.95},{"date":"2011-09-15","series":"Piave river","level":162.15},{"date":"2011-09-16","series":"Piave river","level":161.95},{"date":"2011-09-17","series":"Piave river","level":161.85},{"date":"2011-09-18","series":"Piave river","level":162.3},{"date":"2011-09-19","series":"Piave river","level":163.0},{"date":"2011-09-20","series":"Piave river","level":163.72},{"date":"2011-09-21","series":"Piave river","level":162.9},{"date":"2011-09-22","series":"Piave river","level":162.55},{"date":"2011-09-23","series":"Piave river","level":162.4},{"date":"2011-09-24","series":"Piave river","level":162.2},{"date":"2011-09-25","series":"Piave river","level":162.35},{"date":"2011-09-26","series":"Piave river","level":162.15},{"date":"2011-09-27","series":"Piave river","level":162.3},{"date":"2011-09-28","series":"Piave river","level":162.1},{"date":"2011-09-29","series":"Piave river","level":162.25},{"date":"2011-09-30","series":"Piave river","level":162.05},{"date":"2011-10-01","series":"Piave river","level":162.15},{"date":"2011-10-02","series":"Piave river","level":161.95},{"date":"2011-10-03","series":"Piave river","level":162.15},{"date":"2011-10-04","series":"Piave river","level":161.95},{"date":"2011-10-05","series":"Piave river","level":162.12},{"date":"2011-10-06","series":"Piave river","level":161.92},{"date":"2011-10-07","series":"Piave river","level":162.15},{"date":"2011-10-08","series":"Piave river","level":161.95},{"date":"2011-10-09","series":"Piave river","level":162.1},{"date":"2011-10-10","series":"Piave river","level":161.9},{"date":"2011-10-11","series":"Piave river","level":162.1},{"date":"2011-10-12","series":"Piave river","level":161.92},{"date":"2011-10-13","series":"Piave river","level":162.08},{"date":"2011-10-14","series":"Piave river","level":161.88},{"date":"2011-10-15","series":"Piave river","level":162.05},{"date":"2011-10-16","series":"Piave river","level":161.9},{"date":"2011-10-17","series":"Piave river","level":162.05},{"date":"2011-10-18","series":"Piave river","level":161.88},{"date":"2011-10-19","series":"Piave river","level":162.02},{"date":"2011-10-20","series":"Piave river","level":161.85},{"date":"2011-10-21","series":"Piave river","level":162.0},{"date":"2011-10-22","series":"Piave river","level":161.85},{"date":"2011-10-23","series":"Piave river","level":161.95},{"date":"2011-10-24","series":"Piave river","level":161.86},{"date":"2011-10-25","series":"Piave river","level":162.6},{"date":"2011-10-26","series":"Piave river","level":164.18},{"date":"2011-10-27","series":"Piave river","level":163.5},{"date":"2011-10-28","series":"Piave river","level":162.9},{"date":"2011-10-29","series":"Piave river","level":162.62},{"date":"2011-10-30","series":"Piave river","level":162.4},{"date":"2011-11-01","series":"Piave river","level":162.18},{"date":"2011-11-03","series":"Piave river","level":162.3},{"date":"2011-11-05","series":"Piave river","level":162.47},{"date":"2011-11-06","series":"Piave river","level":162.9},{"date":"2011-11-07","series":"Piave river","level":163.4},{"date":"2011-11-08","series":"Piave river","level":163.8},{"date":"2011-11-09","series":"Piave river","level":164.18},{"date":"2011-11-10","series":"Piave river","level":163.5},{"date":"2011-11-11","series":"Piave river","level":163.1},{"date":"2011-11-12","series":"Piave river","level":162.8},{"date":"2011-11-13","series":"Piave river","level":162.55},{"date":"2011-11-14","series":"Piave river","level":162.7},{"date":"2011-11-15","series":"Piave river","level":162.45},{"date":"2011-11-16","series":"Piave river","level":162.62},{"date":"2011-11-17","series":"Piave river","level":162.4},{"date":"2011-11-18","series":"Piave river","level":162.58},{"date":"2011-11-19","series":"Piave river","level":162.35},{"date":"2011-11-20","series":"Piave river","level":162.52},{"date":"2011-11-21","series":"Piave river","level":162.32},{"date":"2011-11-22","series":"Piave river","level":162.5},{"date":"2011-11-23","series":"Piave river","level":162.3},{"date":"2011-11-24","series":"Piave river","level":162.45},{"date":"2011-11-25","series":"Piave river","level":162.25},{"date":"2011-11-26","series":"Piave river","level":162.42},{"date":"2011-11-27","series":"Piave river","level":162.22},{"date":"2011-11-28","series":"Piave river","level":162.4},{"date":"2011-11-29","series":"Piave river","level":162.2},{"date":"2011-11-30","series":"Piave river","level":162.36},{"date":"2011-12-01","series":"Piave river","level":162.18},{"date":"2011-12-02","series":"Piave river","level":162.35},{"date":"2011-12-03","series":"Piave river","level":162.15},{"date":"2011-12-04","series":"Piave river","level":162.33},{"date":"2011-12-05","series":"Piave river","level":162.15},{"date":"2011-12-06","series":"Piave river","level":162.32},{"date":"2011-12-07","series":"Piave river","level":162.12},{"date":"2011-12-08","series":"Piave river","level":162.3},{"date":"2011-12-09","series":"Piave river","level":162.1},{"date":"2011-12-10","series":"Piave river","level":162.28},{"date":"2011-12-11","series":"Piave river","level":162.1},{"date":"2011-12-12","series":"Piave river","level":162.26},{"date":"2011-12-13","series":"Piave river","level":162.08},{"date":"2011-12-14","series":"Piave river","level":162.25},{"date":"2011-12-15","series":"Piave river","level":162.08},{"date":"2011-12-16","series":"Piave river","level":162.22},{"date":"2011-12-17","series":"Piave river","level":162.4},{"date":"2011-12-18","series":"Piave river","level":162.1},{"date":"2011-12-19","series":"Piave river","level":162.24},{"date":"2011-12-20","series":"Piave river","level":162.06},{"date":"2011-12-21","series":"Piave river","level":162.22},{"date":"2011-12-22","series":"Piave river","level":162.05},{"date":"2011-12-23","series":"Piave river","level":162.2},{"date":"2011-12-24","series":"Piave river","level":162.04},{"date":"2011-12-25","series":"Piave river","level":162.2},{"date":"2011-12-26","series":"Piave river","level":162.02},{"date":"2011-12-27","series":"Piave river","level":162.18},{"date":"2011-12-28","series":"Piave river","level":162.0},{"date":"2011-12-29","series":"Piave river","level":162.16},{"date":"2011-12-30","series":"Piave river","level":162.0},{"date":"2011-12-31","series":"Piave river","level":162.15},{"date":"2012-01-01","series":"Piave river","level":161.98},{"date":"2012-01-02","series":"Piave river","level":162.14},{"date":"2012-01-03","series":"Piave river","level":161.97},{"date":"2012-01-04","series":"Piave river","level":162.12},{"date":"2012-01-05","series":"Piave river","level":161.96},{"date":"2012-01-06","series":"Piave river","level":162.12},{"date":"2012-01-07","series":"Piave river","level":161.95},{"date":"2012-01-08","series":"Piave river","level":162.1},{"date":"2012-01-09","series":"Piave river","level":161.93},{"date":"2012-01-10","series":"Piave river","level":162.1},{"date":"2012-01-11","series":"Piave river","level":161.92},{"date":"2012-01-12","series":"Piave river","level":162.08},{"date":"2012-01-13","series":"Piave river","level":161.9},{"date":"2012-01-14","series":"Piave river","level":162.06},{"date":"2012-01-15","series":"Piave river","level":161.86},{"date":"2012-01-16","series":"Piave river","level":162.0},{"date":"2012-01-17","series":"Piave river","level":161.82},{"date":"2012-01-18","series":"Piave river","level":161.96},{"date":"2012-01-19","series":"Piave river","level":161.8},{"date":"2012-01-20","series":"Piave river","level":161.9},{"date":"2012-01-21","series":"Piave river","level":161.8},{"date":"2012-01-22","series":"Piave river","level":161.95},{"date":"2012-01-23","series":"Piave river","level":162.05},{"date":"2012-01-24","series":"Piave river","level":162.15},{"date":"2012-01-25","series":"Piave river","level":162.05},{"date":"2012-01-26","series":"Piave river","level":161.9},{"date":"2012-01-27","series":"Piave river","level":161.98},{"date":"2012-01-28","series":"Piave river","level":161.82},{"date":"2012-01-29","series":"Piave river","level":161.95},{"date":"2012-01-30","series":"Piave river","level":161.8},{"date":"2012-01-31","series":"Piave river","level":161.92},{"date":"2012-02-01","series":"Piave river","level":161.85}
]
},
"encoding":{
 "x":{"field":"date","type":"temporal",
  "scale":{"type":"utc","domain":[{"year":2011,"month":2,"date":1,"utc":true},{"year":2012,"month":2,"date":1,"utc":true}]},
  "axis":{"title":"Date","values":[{"year":2011,"month":2,"date":1,"utc":true},{"year":2011,"month":3,"date":1,"utc":true},{"year":2011,"month":4,"date":1,"utc":true},{"year":2011,"month":5,"date":1,"utc":true},{"year":2011,"month":6,"date":1,"utc":true},{"year":2011,"month":7,"date":1,"utc":true},{"year":2011,"month":8,"date":1,"utc":true},{"year":2011,"month":9,"date":1,"utc":true},{"year":2011,"month":10,"date":1,"utc":true},{"year":2011,"month":11,"date":1,"utc":true},{"year":2011,"month":12,"date":1,"utc":true},{"year":2012,"month":1,"date":1,"utc":true},{"year":2012,"month":2,"date":1,"utc":true}],
   "labelExpr":"utcmonth(datum.value) % 2 == 1 ? utcFormat(datum.value, '%Y-%m-%d') : ''",
   "labelOverlap":false,"labelFontSize":12.5,"labelPadding":2,"titleY":41,"titleBaseline":"middle"}}
},
"layer":[
 {"data":{"name":"rain"},
  "mark":{"type":"bar","width":2},
  "encoding":{
   "y":{"field":"precip","type":"quantitative","scale":{"domain":[0,244],"nice":false,"zero":true},
    "axis":{"orient":"right","title":"Precipitation [mm/day]","values":[0,50,100,150,200],"labelPadding":5,"titleAngle":270,"titleX":55,"titleY":277,"titleBaseline":"middle","titleAlign":"center"}},
   "color":{"field":"precip","type":"quantitative","scale":{"domain":[5,50],"range":["#1fb5ee","#1358a8"],"clamp":true},"legend":null}
  }},
 {"encoding":{
   "y":{"field":"level","type":"quantitative","scale":{"domain":[152.04,164.3],"nice":false,"zero":false},
    "axis":{"title":"Water level [m a.s.l.]","values":[154,156,158,160,162,164],"labelPadding":3,"titleX":-57,"titleY":247,"titleBaseline":"middle","titleAlign":"center","titleAngle":270}},
   "color":{"field":"series","type":"nominal","scale":{"domain":["Piave river","w7","wN3","w40","w3","p1","rainfall"],"range":["#f41c1c","#2b7d2b","#3de4e8","#f0a035","#1c1cc4","#f22be0","#27b2ea"]},"legend":null}
  },
  "layer":[
   {"data":{"name":"levels"},"mark":{"type":"line","strokeWidth":1.8}},
   {"data":{"name":"labels"},"mark":{"type":"text","fontSize":16,"fontWeight":"bold","align":"center","baseline":"middle"},"encoding":{"text":{"field":"label"}}}
  ]}
],
"resolve":{"scale":{"y":"independent","color":"independent"}}
}
